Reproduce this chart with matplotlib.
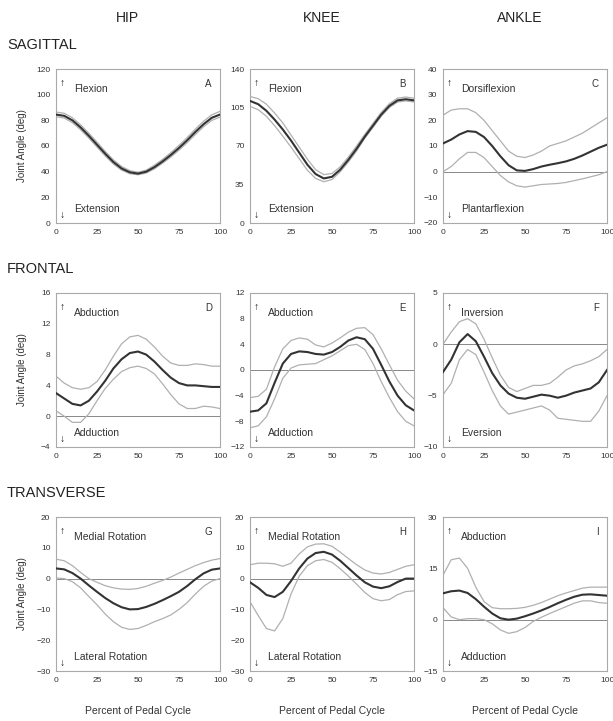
import matplotlib
matplotlib.use('Agg')
import matplotlib.pyplot as plt
import numpy as np

plt.rcParams['font.family'] = ['Liberation Sans', 'DejaVu Sans']

x = [0, 5, 10, 15, 20, 25, 30, 35, 40, 45, 50, 55, 60, 65, 70, 75, 80, 85, 90, 95, 100]

# A - hip sagittal
a_mean = [84.5, 83.5, 80, 74.5, 68, 61, 54, 47.5, 42.5, 39.5, 38.5, 40, 43.5, 48, 53, 58.5, 64.5, 71, 77, 82, 84.5]
a_up = [86.5, 85.5, 82, 76.5, 70, 63, 55.8, 49.2, 44, 40.8, 39.5, 41.2, 45, 49.6, 54.8, 60.5, 66.6, 73.2, 79.3, 84.3, 87]
a_lo = [82.8, 81.8, 78.2, 72.7, 66.2, 59.2, 52.3, 46, 41.2, 38.4, 37.6, 38.9, 42.2, 46.6, 51.4, 56.8, 62.6, 69, 75, 80, 82.5]

# B - knee sagittal
b_mean = [111, 108, 102, 94, 85, 75, 64, 53, 44.5, 40.5, 42, 48.5, 57.5, 67.5, 78.5, 88.5, 98.5, 106.5, 111.5, 112.5, 111.5]
b_up = [115, 113, 108, 100, 91, 80, 69, 58, 48.5, 44, 45, 51, 60, 70, 80.5, 90.5, 100.5, 108.5, 113.5, 114.5, 113.5]
b_lo = [106, 103, 97, 88.5, 79, 69, 58.5, 48, 40.5, 37.5, 39.5, 46.5, 55.5, 65.5, 77, 87, 97, 105, 110, 111, 110]

# C - ankle sagittal
c_mean = [11, 12.5, 14.5, 15.8, 15.5, 13.5, 10, 6, 2.5, 0.5, 0.3, 1, 2, 2.7, 3.3, 4, 5, 6.3, 7.8, 9.3, 10.5]
c_up = [22, 24, 24.5, 24.5, 23, 20, 16, 12, 8, 6, 5.5, 6.5, 8, 10, 11, 12, 13.5, 15, 17, 19, 21]
c_lo = [0, 2, 5, 7.5, 7.5, 5.5, 2, -1.5, -4, -5.5, -6, -5.5, -5, -4.8, -4.6, -4.2, -3.5, -2.8, -2, -1.2, 0]

# D - hip frontal
d_mean = [3, 2.3, 1.6, 1.4, 2, 3.2, 4.6, 6.2, 7.4, 8.2, 8.4, 8, 7.1, 6, 5, 4.3, 4, 4, 3.9, 3.8, 3.8]
d_up = [5.2, 4.3, 3.7, 3.5, 3.7, 4.5, 6, 7.8, 9.4, 10.3, 10.5, 10, 9, 7.8, 6.9, 6.6, 6.6, 6.8, 6.7, 6.5, 6.5]
d_lo = [0.7, 0, -0.8, -0.8, 0.3, 2, 3.6, 4.8, 5.8, 6.3, 6.5, 6.2, 5.5, 4.2, 2.8, 1.6, 1, 1, 1.3, 1.2, 1]

# E - knee frontal
e_mean = [-6.5, -6.3, -5.2, -2, 1, 2.5, 2.9, 2.8, 2.5, 2.4, 2.8, 3.6, 4.6, 5.1, 4.8, 3.3, 0.8, -1.8, -4, -5.5, -6.3]
e_up = [-4.3, -4.1, -3, 0.5, 3.3, 4.6, 5, 4.8, 3.9, 3.6, 4.2, 5, 5.9, 6.5, 6.6, 5.5, 3.3, 0.8, -1.6, -3.3, -4.5]
e_lo = [-9, -8.7, -7.3, -4.5, -1.3, 0.3, 0.8, 0.9, 1, 1.6, 2.2, 3, 3.8, 4, 3.2, 1, -1.8, -4.3, -6.5, -8, -8.7]

# F - ankle frontal
f_mean = [-2.7, -1.5, 0.2, 1, 0.3, -1.2, -2.8, -4, -4.8, -5.2, -5.3, -5.1, -4.9, -5, -5.2, -5, -4.7, -4.5, -4.3, -3.7, -2.5]
f_up = [0, 1.2, 2.2, 2.5, 2, 0.5, -1.3, -3, -4.2, -4.6, -4.3, -4, -4, -3.8, -3.2, -2.5, -2.1, -1.9, -1.6, -1.2, -0.5]
f_lo = [-4.9, -3.8, -1.5, -0.5, -1, -2.7, -4.5, -6, -6.8, -6.6, -6.4, -6.2, -6, -6.4, -7.2, -7.3, -7.4, -7.5, -7.5, -6.5, -5]

# G - hip transverse
g_mean = [3.3, 3, 1.8, 0, -2.2, -4.3, -6.3, -8, -9.3, -10, -9.9, -9.2, -8.2, -7, -5.7, -4.3, -2.4, -0.2, 1.7, 2.9, 3.3]
g_up = [6.3, 5.8, 4.2, 2, 0, -1.2, -2.3, -3, -3.4, -3.5, -3.2, -2.5, -1.5, -0.6, 0.5, 1.8, 3, 4.2, 5.2, 6, 6.5]
g_lo = [0.2, 0, -1, -3, -5.8, -8.5, -11.5, -14, -15.8, -16.5, -16.2, -15.2, -14, -13, -11.8, -10, -7.8, -5, -2.5, -0.8, 0]

# H - knee transverse
h_mean = [-1.2, -3, -5.3, -6, -4.3, -0.8, 3.3, 6.5, 8.3, 8.7, 7.8, 5.8, 3.4, 1, -1.2, -2.6, -3.1, -2.5, -1.1, 0, 0]
h_up = [4.5, 5, 5, 4.8, 4, 5, 8, 10.3, 11.2, 11.3, 10.5, 8.6, 6.5, 4.5, 2.8, 1.8, 1.5, 2, 3, 4, 4.5]
h_lo = [-7.5, -12, -16.2, -17, -13, -5, 0.8, 4.2, 5.8, 6.2, 5.3, 3.2, 0.8, -1.8, -4.5, -6.5, -7.2, -6.8, -5.2, -4.2, -4]

# I - ankle transverse
i_mean = [7.7, 8.3, 8.5, 7.8, 6, 3.8, 1.8, 0.4, 0, 0.3, 1, 1.8, 2.7, 3.7, 4.8, 5.8, 6.7, 7.3, 7.4, 7.2, 7]
i_up = [13, 17.5, 18, 15, 9.5, 5.3, 3.5, 3.2, 3.2, 3.3, 3.6, 4.2, 5, 6, 7, 7.8, 8.5, 9.2, 9.5, 9.5, 9.5]
i_lo = [3.5, 0.8, 0, 0.3, 0.3, 0, -1.2, -3, -4, -3.5, -2.3, -0.5, 0.7, 1.8, 2.8, 3.8, 4.8, 5.5, 5.5, 5, 4.8]

panels = [
    ('A', a_mean, a_up, a_lo, [0, 20, 40, 60, 80, 100, 120], 'Flexion', 'Extension', False),
    ('B', b_mean, b_up, b_lo, [0, 35, 70, 105, 140], 'Flexion', 'Extension', False),
    ('C', c_mean, c_up, c_lo, [-20, -10, 0, 10, 20, 30, 40], 'Dorsiflexion', 'Plantarflexion', True),
    ('D', d_mean, d_up, d_lo, [-4, 0, 4, 8, 12, 16], 'Abduction', 'Adduction', True),
    ('E', e_mean, e_up, e_lo, [-12, -8, -4, 0, 4, 8, 12], 'Abduction', 'Adduction', True),
    ('F', f_mean, f_up, f_lo, [-10, -5, 0, 5], 'Inversion', 'Eversion', True),
    ('G', g_mean, g_up, g_lo, [-30, -20, -10, 0, 10, 20], 'Medial Rotation', 'Lateral Rotation', True),
    ('H', h_mean, h_up, h_lo, [-30, -20, -10, 0, 10, 20], 'Medial Rotation', 'Lateral Rotation', True),
    ('I', i_mean, i_up, i_lo, [-15, 0, 15, 30], 'Abduction', 'Adduction', True),
]

W, H = 613, 721
fig = plt.figure(figsize=(W / 100, H / 100), dpi=100)

lefts = [56, 250, 443]
tops = [69, 293, 517]
aw, ah = 164, 154

cols = ['HIP', 'KNEE', 'ANKLE']
col_x = [127, 322, 520]
for name, cx in zip(cols, col_x):
    fig.text(cx / W, 1 - 18 / H, name, ha='center', va='center', fontsize=10, color='#222')

rows = ['SAGITTAL', 'FRONTAL', 'TRANSVERSE']
for name, t in zip(rows, tops):
    fig.text(7 / W, 1 - (t - 24) / H, name, ha='left', va='center', fontsize=10.5, color='#222')

for k, (lab, m, up, lo, yt, top_txt, bot_txt, zero) in enumerate(panels):
    r, c = divmod(k, 3)
    ax = fig.add_axes([lefts[c] / W, 1 - (tops[r] + ah) / H, aw / W, ah / H])
    if zero:
        ax.axhline(0, color='#888', lw=0.7, zorder=1)
    ax.plot(x, up, color='#b0b0b0', lw=0.9, zorder=2)
    ax.plot(x, lo, color='#b0b0b0', lw=0.9, zorder=2)
    ax.plot(x, m, color='#333', lw=1.5, zorder=3)
    ax.set_xlim(0, 100)
    ax.set_ylim(yt[0], yt[-1])
    ax.set_xticks([0, 25, 50, 75, 100])
    ax.set_yticks(yt)
    ax.tick_params(length=0, labelsize=6, colors='#333', pad=4)
    for s in ax.spines.values():
        s.set_color('#aaa')
        s.set_linewidth(0.8)
    ax.text(0.04, 0.91, '↑', transform=ax.transAxes, fontsize=7.5, ha='center', va='center', color='#222')
    ax.text(0.04, 0.05, '↓', transform=ax.transAxes, fontsize=7.5, ha='center', va='center', color='#222')
    ax.text(0.11, 0.87, top_txt, transform=ax.transAxes, fontsize=7.5, ha='left', va='center', color='#333')
    ax.text(0.11, 0.09, bot_txt, transform=ax.transAxes, fontsize=7.5, ha='left', va='center', color='#333')
    ax.text(0.95, 0.9, lab, transform=ax.transAxes, fontsize=7, ha='right', va='center', color='#333')
    if c == 0:
        fig.text(22 / W, 1 - (tops[r] + ah / 2) / H, 'Joint Angle (deg)', rotation=90,
                 ha='center', va='center', fontsize=7, color='#333')
    if r == 2:
        fig.text((lefts[c] + aw / 2) / W, 1 - 711 / H, 'Percent of Pedal Cycle',
                 ha='center', va='center', fontsize=7.5, color='#333')

fig.savefig('out.png', dpi=100)
